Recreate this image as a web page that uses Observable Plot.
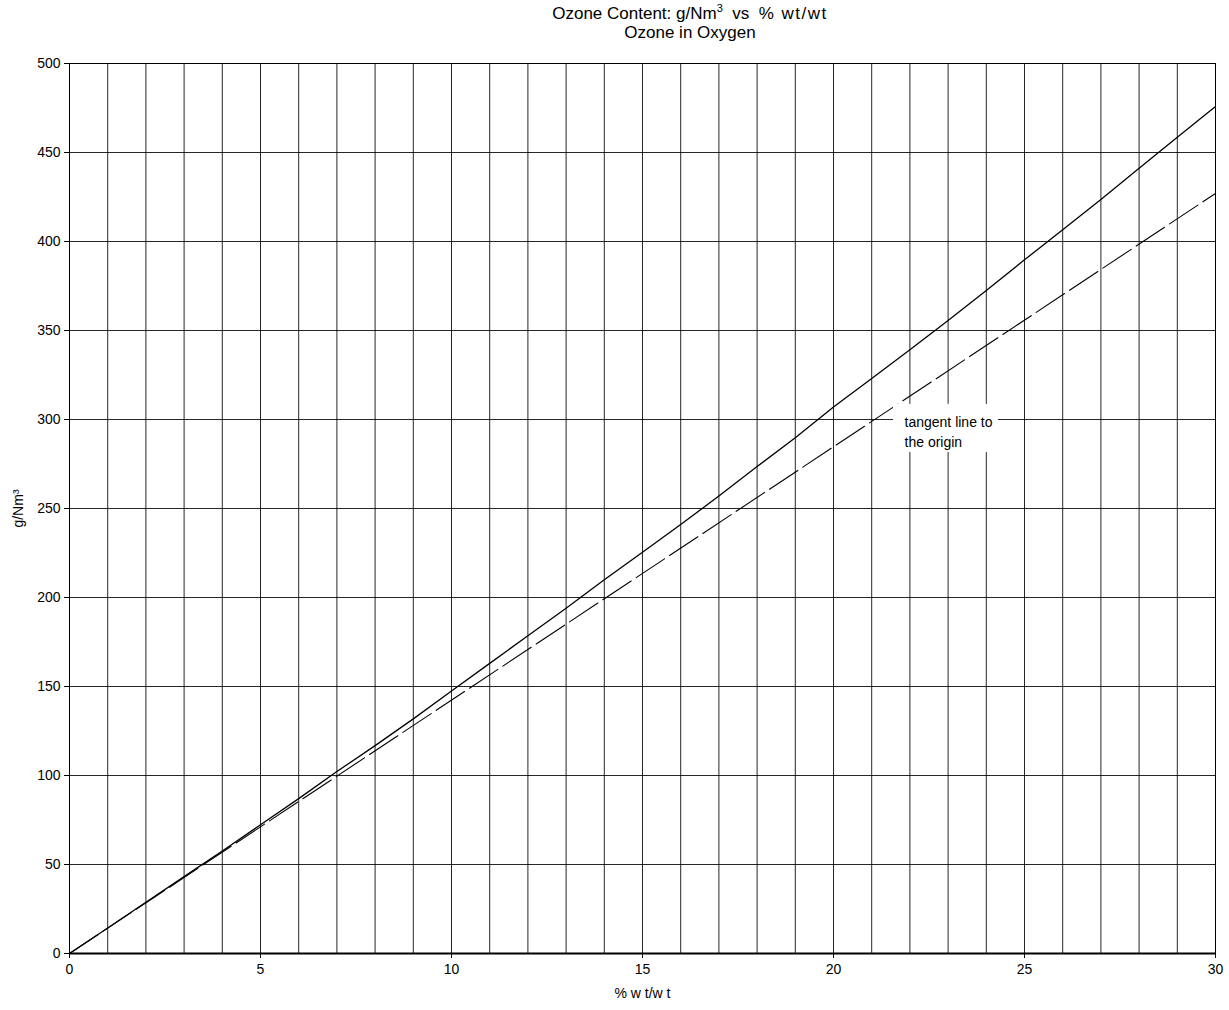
<!DOCTYPE html>
<html>
<head>
<meta charset="utf-8">
<script src="https://cdn.jsdelivr.net/npm/d3@7"></script>
<script src="https://cdn.jsdelivr.net/npm/@observablehq/plot@0.6"></script>
<style>
  html, body { margin: 0; padding: 0; background: #fff; }
  body { width: 1229px; font-family: "Liberation Sans", Arial, sans-serif; }
  #title { height: 56px; box-sizing: border-box; padding-top: 4px; margin-left: 151px; width: 1078px; text-align: center; font-size: 17px; line-height: 19px; color: #000; white-space: pre; }
  #title sup { font-size: 11px; vertical-align: 7px; line-height: 0; }
  .sp { letter-spacing: 1.5px; }
</style>
</head>
<body>
<div id="title"><div>Ozone Content: g/Nm<sup>3</sup>  vs  <span class="sp">% wt/wt</span></div><div>Ozone in Oxygen</div></div>
<div id="chart"></div>
<script>
// Measured curve: % wt/wt -> g/Nm3
const wtPercent = [0,1,2,3,4,5,6,7,8,9,10,11,12,13,14,15,16,17,18,19,20,21,22,23,24,25,26,27,28,29,30];
const gPerNm3 = [0,14.3,28.8,43.2,57.6,72.3,87.0,102.2,116.8,131.8,147.5,163.0,178.5,194.0,210.0,225.4,241.0,257.0,273.6,289.7,307.0,323.0,339.2,355.6,372.5,389.7,406.6,423.6,441.2,458.6,475.8];
// Tangent line to the origin
const tangentX = [0, 30];
const tangentY = [0, 427];
// Axis ticks
const xTickLabels = [0,5,10,15,20,25,30];
const xGridTicks = [0,1,2,3,4,5,6,7,8,9,10,11,12,13,14,15,16,17,18,19,20,21,22,23,24,25,26,27,28,29,30];
const yTickLabels = [0,50,100,150,200,250,300,350,400,450,500];
// Annotation
const noteText = ["tangent line to\nthe origin"];
const noteX = [21.86];
const noteY = [304];
const noteBoxX = [21.57, 24.32];
const noteBoxY = [281.5, 308.5];

const curve = wtPercent.map((x, i) => ({x, y: gPerNm3[i]}));
const tangent = tangentX.map((x, i) => ({x, y: tangentY[i]}));
const note = noteText.map((t, i) => ({t, x: noteX[i], y: noteY[i]}));
const noteBox = [{x1: noteBoxX[0], x2: noteBoxX[1], y1: noteBoxY[0], y2: noteBoxY[1]}];

const chart = Plot.plot({
  width: 1229,
  height: 954,
  marginTop: 7,
  marginBottom: 57,
  marginLeft: 69,
  marginRight: 14,
  style: { fontFamily: "Liberation Sans, Arial, sans-serif", fontSize: "14px", color: "#000", background: "#fff" },
  x: { domain: [0, 30] },
  y: { domain: [0, 500] },
  marks: [
    Plot.gridX(xGridTicks, { stroke: "#000", strokeOpacity: 0.85, strokeWidth: 1 }),
    Plot.gridY(yTickLabels, { stroke: "#000", strokeOpacity: 0.85, strokeWidth: 1 }),
    Plot.axisX(xTickLabels, { tickSize: 5, tickPadding: 6, fontSize: 14, label: "% w t/w t", labelAnchor: "center", labelArrow: "none", labelOffset: 44 }),
    Plot.axisY(yTickLabels, { tickSize: 5, tickPadding: 4, fontSize: 14, label: "g/Nm³", labelAnchor: "center", labelArrow: "none", labelOffset: 56 }),
    Plot.frame({ stroke: "#000", strokeWidth: 1 }),
    Plot.ruleY([0], { stroke: "#000", strokeWidth: 2 }),
    Plot.line(tangent, { x: "x", y: "y", stroke: "#000", strokeWidth: 1.1, strokeDasharray: "34,6" }),
    Plot.line(curve, { x: "x", y: "y", stroke: "#000", strokeWidth: 1.3 }),
    Plot.rect(noteBox, { x1: "x1", x2: "x2", y1: "y1", y2: "y2", fill: "#fff" }),
    Plot.text(note, { x: "x", y: "y", text: "t", textAnchor: "start", lineAnchor: "top", lineHeight: 1.45, fontSize: 14, fill: "#000" })
  ]
});
document.getElementById("chart").appendChild(chart);
</script>
</body>
</html>
